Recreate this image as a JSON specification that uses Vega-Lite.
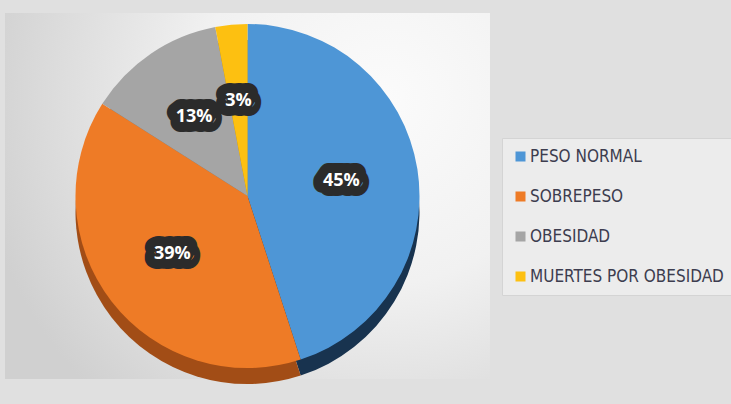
{
  "$schema": "https://vega.github.io/schema/vega-lite/v6.json",
  "width": 485,
  "height": 366,
  "padding": {"left": 5, "top": 13, "right": 10, "bottom": 25},
  "background": "#e0e0e0",
  "config": {"view": {"stroke": null}},
  "data": {
    "values": [
      {"categoria": "PESO NORMAL", "porcentaje": 45, "orden": 1, "etiqueta": "45%"},
      {"categoria": "SOBREPESO", "porcentaje": 39, "orden": 2, "etiqueta": "39%"},
      {"categoria": "OBESIDAD", "porcentaje": 13, "orden": 3, "etiqueta": "13%"},
      {"categoria": "MUERTES POR OBESIDAD", "porcentaje": 3, "orden": 4, "etiqueta": "3%"}
    ]
  },
  "layer": [
    {
      "data": {"values": [{"fondo": 1}]},
      "mark": {
        "type": "rect",
        "fill": {
          "gradient": "radial",
          "x1": 0.78, "y1": 0.3, "r1": 0,
          "x2": 0.78, "y2": 0.3, "r2": 0.85,
          "stops": [
            {"offset": 0, "color": "#fbfbfb"},
            {"offset": 0.45, "color": "#f1f1f1"},
            {"offset": 1, "color": "#d0d0d0"}
          ]
        }
      }
    },
    {
      "mark": {"type": "arc", "outerRadius": 172, "yOffset": 16},
      "encoding": {
        "theta": {"field": "porcentaje", "type": "quantitative", "stack": true},
        "order": {"field": "orden", "type": "quantitative"},
        "color": {
          "field": "categoria", "type": "nominal",
          "scale": {
            "domain": ["PESO NORMAL", "SOBREPESO", "OBESIDAD", "MUERTES POR OBESIDAD"],
            "range": ["#18334f", "#a24d16", "#6e6e6e", "#b88a00"]
          },
          "legend": null
        }
      }
    },
    {
      "mark": {"type": "arc", "outerRadius": 172},
      "encoding": {
        "theta": {"field": "porcentaje", "type": "quantitative", "stack": true},
        "order": {"field": "orden", "type": "quantitative"},
        "color": {
          "field": "categoria", "type": "nominal",
          "scale": {
            "domain": ["PESO NORMAL", "SOBREPESO", "OBESIDAD", "MUERTES POR OBESIDAD"],
            "range": ["#4e96d6", "#ee7b26", "#a5a5a5", "#fdc011"]
          },
          "legend": {
            "orient": "none",
            "legendX": 497,
            "legendY": 125,
            "title": null,
            "symbolType": "square",
            "symbolSize": 100,
            "symbolStrokeWidth": 0,
            "labelFont": "DejaVu Sans Condensed",
            "labelFontSize": 17,
            "labelColor": "#3d3d4f",
            "labelOffset": 1,
            "labelLimit": 300,
            "rowPadding": 22,
            "padding": 10,
            "fillColor": "#ececec",
            "strokeColor": "#d4d4d4"
          }
        }
      }
    },
    {
      "mark": {
        "type": "text", "radius": 95,
        "font": "Open Sans", "fontWeight": "bold", "fontSize": 18,
        "fill": "#2b2b2b", "stroke": "#2b2b2b", "strokeWidth": 20, "strokeJoin": "round"
      },
      "encoding": {
        "theta": {"field": "porcentaje", "type": "quantitative", "stack": true},
        "order": {"field": "orden", "type": "quantitative"},
        "text": {"field": "etiqueta", "type": "nominal"}
      }
    },
    {
      "mark": {
        "type": "text", "radius": 95,
        "font": "Open Sans", "fontWeight": "bold", "fontSize": 18,
        "fill": "#ffffff"
      },
      "encoding": {
        "theta": {"field": "porcentaje", "type": "quantitative", "stack": true},
        "order": {"field": "orden", "type": "quantitative"},
        "text": {"field": "etiqueta", "type": "nominal"}
      }
    }
  ],
  "resolve": {"scale": {"color": "independent"}}
}
